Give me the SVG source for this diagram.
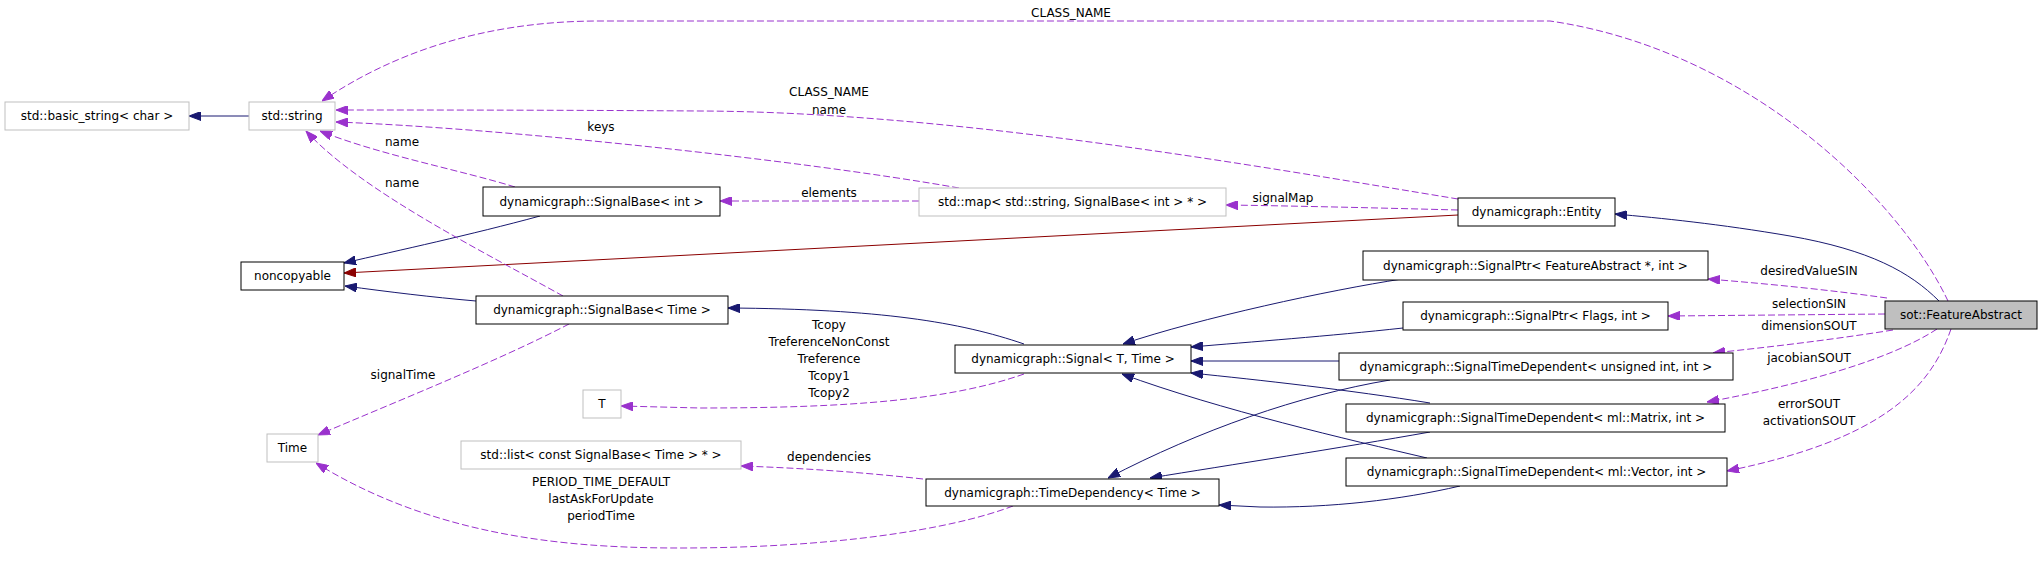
<svg xmlns="http://www.w3.org/2000/svg" width="2043" height="581" viewBox="0 0 2043 581">
<style>
text{font-family:"DejaVu Sans","Liberation Sans",sans-serif;font-size:12px;fill:#000;text-anchor:middle}
.n rect{fill:#fff;stroke:#000;stroke-width:1}
.g rect{fill:#fff;stroke:#bfbfbf;stroke-width:1}
.f rect{fill:#bfbfbf;stroke:#000;stroke-width:1}
.inh{fill:none;stroke:#191970;stroke-width:1}
.priv{fill:none;stroke:#8b0000;stroke-width:1}
.use{fill:none;stroke:#9a32cd;stroke-width:1;stroke-dasharray:7,3}
</style>
<defs>
<marker id="aN" viewBox="0 0 12 9" refX="12" refY="4.5" markerWidth="12" markerHeight="9" markerUnits="userSpaceOnUse" orient="auto"><path d="M0,0L12,4.5L0,9z" fill="#191970" stroke="#191970"/></marker>
<marker id="aR" viewBox="0 0 12 9" refX="12" refY="4.5" markerWidth="12" markerHeight="9" markerUnits="userSpaceOnUse" orient="auto"><path d="M0,0L12,4.5L0,9z" fill="#8b0000" stroke="#8b0000"/></marker>
<marker id="aP" viewBox="0 0 12 9" refX="12" refY="4.5" markerWidth="12" markerHeight="9" markerUnits="userSpaceOnUse" orient="auto"><path d="M0,0L12,4.5L0,9z" fill="#9a32cd" stroke="#9a32cd"/></marker>
</defs>
<rect width="2043" height="581" fill="#fff"/>

<g id="connectors">
<path class="inh" marker-end="url(#aN)" d="M249,116L189,116"/>
<path class="inh" marker-end="url(#aN)" d="M540,216C470,235 400,250 344,263"/>
<path class="inh" marker-end="url(#aN)" d="M476,301C430,297 390,292 345,286"/>
<path class="priv" marker-end="url(#aR)" d="M1458,215L344,273"/>
<path class="inh" marker-end="url(#aN)" d="M1024,344C960,322 880,309 728,308"/>
<path class="inh" marker-end="url(#aN)" d="M1939,301C1910,272 1870,250 1790,236C1720,224 1660,218 1615,214"/>
<path class="inh" marker-end="url(#aN)" d="M1402,279C1330,290 1200,318 1123,344"/>
<path class="inh" marker-end="url(#aN)" d="M1403,328C1330,336 1250,342 1191,347"/>
<path class="inh" marker-end="url(#aN)" d="M1339,361L1191,361"/>
<path class="inh" marker-end="url(#aN)" d="M1430,403C1350,390 1260,380 1191,373"/>
<path class="inh" marker-end="url(#aN)" d="M1427,458C1350,440 1220,410 1122,374"/>
<path class="inh" marker-end="url(#aN)" d="M1390,380C1300,395 1200,430 1108,478"/>
<path class="inh" marker-end="url(#aN)" d="M1430,432C1340,448 1230,465 1150,478"/>
<path class="inh" marker-end="url(#aN)" d="M1460,486C1400,500 1330,508 1260,507L1219,505"/>

<path class="use" marker-end="url(#aP)" d="M1948,301C1900,200 1750,50 1550,21L600,21C480,21 390,55 322,101"/>
<path class="use" marker-end="url(#aP)" d="M1458,199C1250,165 950,112 700,111C550,110 420,110 336,110"/>
<path class="use" marker-end="url(#aP)" d="M959,188C800,160 500,128 336,122"/>
<path class="use" marker-end="url(#aP)" d="M515,187C460,170 380,155 320,131"/>
<path class="use" marker-end="url(#aP)" d="M563,296C480,250 360,190 306,131"/>
<path class="use" marker-end="url(#aP)" d="M569,324C500,360 400,400 318,435"/>
<path class="use" marker-end="url(#aP)" d="M1024,374C950,400 850,408 700,408L621,406"/>
<path class="use" marker-end="url(#aP)" d="M923,479C860,472 800,468 741,466"/>
<path class="use" marker-end="url(#aP)" d="M1013,506C950,530 830,548 680,548C580,548 440,540 316,463"/>
<path class="use" marker-end="url(#aP)" d="M919,201L720,201"/>
<path class="use" marker-end="url(#aP)" d="M1458,210C1380,208 1300,206 1226,205"/>
<path class="use" marker-end="url(#aP)" d="M1887,298C1830,290 1770,284 1708,279"/>
<path class="use" marker-end="url(#aP)" d="M1885,314L1668,316"/>
<path class="use" marker-end="url(#aP)" d="M1893,330C1830,340 1770,347 1713,353"/>
<path class="use" marker-end="url(#aP)" d="M1937,329C1890,360 1800,385 1707,402"/>
<path class="use" marker-end="url(#aP)" d="M1951,329C1930,390 1880,440 1727,471"/>

<text x="1071" y="17">CLASS_NAME</text>
<text x="829" y="96">CLASS_NAME</text>
<text x="829" y="114">name</text>
<text x="601" y="131">keys</text>
<text x="402" y="146">name</text>
<text x="402" y="187">name</text>
<text x="829" y="197">elements</text>
<text x="1283" y="202">signalMap</text>
<text x="403" y="379">signalTime</text>
<text x="829" y="329">Tcopy</text>
<text x="829" y="346">TreferenceNonConst</text>
<text x="829" y="363">Treference</text>
<text x="829" y="380">Tcopy1</text>
<text x="829" y="397">Tcopy2</text>
<text x="829" y="461">dependencies</text>
<text x="601" y="486">PERIOD_TIME_DEFAULT</text>
<text x="601" y="503">lastAskForUpdate</text>
<text x="601" y="520">periodTime</text>
<text x="1809" y="275">desiredValueSIN</text>
<text x="1809" y="308">selectionSIN</text>
<text x="1809" y="330">dimensionSOUT</text>
<text x="1809" y="362">jacobianSOUT</text>
<text x="1809" y="408">errorSOUT</text>
<text x="1809" y="425">activationSOUT</text>
</g>

<g id="basic_string" class="g"><rect x="5" y="102" width="184" height="28"/><text x="97" y="120">std::basic_string&lt; char &gt;</text></g>
<g id="string" class="g"><rect x="249" y="102" width="86" height="28"/><text x="292" y="120">std::string</text></g>
<g id="noncopyable" class="n"><rect x="241" y="262" width="103" height="28"/><text x="292.5" y="280">noncopyable</text></g>
<g id="signalbase_int" class="n"><rect x="483" y="187" width="237" height="29"/><text x="601.5" y="205.5">dynamicgraph::SignalBase&lt; int &gt;</text></g>
<g id="signalbase_time" class="n"><rect x="476" y="296" width="252" height="28"/><text x="602" y="314">dynamicgraph::SignalBase&lt; Time &gt;</text></g>
<g id="time" class="g"><rect x="267" y="434" width="51" height="28"/><text x="292.5" y="452">Time</text></g>
<g id="t" class="g"><rect x="583" y="390" width="38" height="28"/><text x="602" y="408">T</text></g>
<g id="list" class="g"><rect x="461" y="441" width="280" height="28"/><text x="601" y="459">std::list&lt; const SignalBase&lt; Time &gt; * &gt;</text></g>
<g id="map" class="g"><rect x="919" y="188" width="307" height="28"/><text x="1072.5" y="206">std::map&lt; std::string, SignalBase&lt; int &gt; * &gt;</text></g>
<g id="entity" class="n"><rect x="1458" y="198" width="157" height="28"/><text x="1536.5" y="216">dynamicgraph::Entity</text></g>
<g id="signalptr_fa" class="n"><rect x="1363" y="251" width="345" height="29"/><text x="1535.5" y="269.5">dynamicgraph::SignalPtr&lt; FeatureAbstract *, int &gt;</text></g>
<g id="signalptr_flags" class="n"><rect x="1403" y="302" width="265" height="28"/><text x="1535.5" y="320">dynamicgraph::SignalPtr&lt; Flags, int &gt;</text></g>
<g id="signal" class="n"><rect x="955" y="345" width="236" height="28"/><text x="1073" y="363">dynamicgraph::Signal&lt; T, Time &gt;</text></g>
<g id="std_unsigned" class="n"><rect x="1339" y="353" width="394" height="27"/><text x="1536" y="370.5">dynamicgraph::SignalTimeDependent&lt; unsigned int, int &gt;</text></g>
<g id="std_matrix" class="n"><rect x="1346" y="404" width="379" height="28"/><text x="1535.5" y="422">dynamicgraph::SignalTimeDependent&lt; ml::Matrix, int &gt;</text></g>
<g id="std_vector" class="n"><rect x="1346" y="458" width="381" height="28"/><text x="1536.5" y="476">dynamicgraph::SignalTimeDependent&lt; ml::Vector, int &gt;</text></g>
<g id="timedependency" class="n"><rect x="926" y="479" width="293" height="27"/><text x="1072.5" y="496.5">dynamicgraph::TimeDependency&lt; Time &gt;</text></g>
<g id="featureabstract" class="f"><rect x="1885" y="301" width="152" height="28"/><text x="1961" y="319">sot::FeatureAbstract</text></g>
</svg>
